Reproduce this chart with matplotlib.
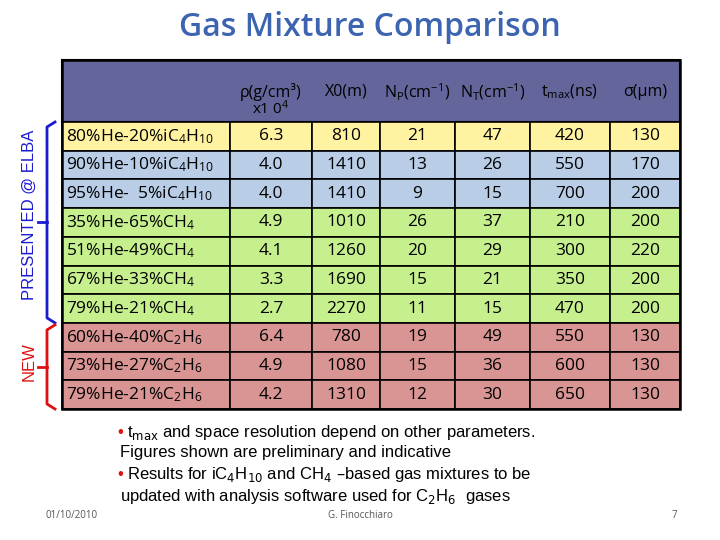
import matplotlib
matplotlib.use("Agg")
import matplotlib.pyplot as plt
from matplotlib.patches import Rectangle

plt.rcParams['mathtext.fontset'] = 'custom'
plt.rcParams['mathtext.rm'] = 'Open Sans'
plt.rcParams['mathtext.it'] = 'Open Sans'

mixtures = [r'80%He-20%iC$_4$H$_{10}$', r'90%He-10%iC$_4$H$_{10}$', r'95%He-  5%iC$_4$H$_{10}$',
            r'35%He-65%CH$_4$', r'51%He-49%CH$_4$', r'67%He-33%CH$_4$', r'79%He-21%CH$_4$',
            r'60%He-40%C$_2$H$_6$', r'73%He-27%C$_2$H$_6$', r'79%He-21%C$_2$H$_6$']
headers = ['ρ(g/cm³)', 'X0(m)', r'N$_P$(cm$^{-1}$)', r'N$_T$(cm$^{-1}$)', r't$_{max}$(ns)', 'σ(μm)']
rho = ['6.3', '4.0', '4.0', '4.9', '4.1', '3.3', '2.7', '6.4', '4.9', '4.2']
x0 = [810, 1410, 1410, 1010, 1260, 1690, 2270, 780, 1080, 1310]
np_ = [21, 13, 9, 26, 20, 15, 11, 19, 15, 12]
nt = [47, 26, 15, 37, 29, 21, 15, 49, 36, 30]
tmax = [420, 550, 700, 210, 300, 350, 470, 550, 600, 650]
sigma = [130, 170, 200, 200, 220, 200, 200, 130, 130, 130]
groups = ['y', 'b', 'b', 'g', 'g', 'g', 'g', 'r', 'r', 'r']
gcol = {'y': '#fff2a0', 'b': '#b9cde6', 'g': '#c6ef8e', 'r': '#d99594'}

fig = plt.figure(figsize=(7.2, 5.4), dpi=100)
ax = fig.add_axes([0, 0, 1, 1])
ax.set_xlim(0, 720); ax.set_ylim(540, 0); ax.axis('off')
F = 'Open Sans'

ax.text(370, 28, 'Gas Mixture Comparison', ha='center', va='center', fontsize=23,
        color='#3c64b0', family=F, weight='semibold')

colx = [62, 230, 312, 380, 455, 530, 610, 680]
top, hb, rh = 60, 122, 28.7
ax.add_patch(Rectangle((colx[0], top), colx[-1]-colx[0], hb-top, fc='#64659b', ec='black', lw=1.5))
for j, h in enumerate(headers):
    cx = (colx[j+1] + colx[j+2]) / 2
    ax.text(cx, 92, h, ha='center', va='center', fontsize=11.5, color='black', family=F)
ax.text((colx[1]+colx[2])/2, 109, r'x1 0$^4$', ha='center', va='center', fontsize=11, family=F)
cols = [rho, x0, np_, nt, tmax, sigma]
for i, m in enumerate(mixtures):
    y = hb + i*rh
    c = gcol[groups[i]]
    for j in range(len(colx)-1):
        ax.add_patch(Rectangle((colx[j], y), colx[j+1]-colx[j], rh, fc=c, ec='black', lw=1.2))
    ax.text(colx[0]+4, y+rh/2, m, ha='left', va='center', fontsize=12.5, family=F)
    for j, col in enumerate(cols):
        ax.text((colx[j+1]+colx[j+2])/2, y+rh/2, str(col[i]), ha='center', va='center',
                fontsize=12.5, family=F)
ax.add_patch(Rectangle((colx[0], top), colx[-1]-colx[0], hb+10*rh-top, fill=False, ec='black', lw=1.8))

def bracket(y0, y1, color):
    ym = (y0+y1)/2
    ax.plot([55, 47, 47, 55], [y0, y0+5, y1-5, y1], color=color, lw=2)
    ax.plot([38, 47], [ym, ym], color=color, lw=2)
bracket(hb, hb+7*rh, '#1a1ad0')
bracket(hb+7*rh+2, hb+10*rh, '#dd1111')
ax.text(29, 215, 'PRESENTED @ ELBA', rotation=90, ha='center', va='center', fontsize=12,
        color='#1a1ad0', family='Liberation Sans')
ax.text(29, 362, 'NEW', rotation=90, ha='center', va='center', fontsize=12,
        color='#dd1111', family='Liberation Sans')

L = 'Liberation Sans'
fs = 12
ax.text(117, 432, '•', color='#dd1111', fontsize=fs, family=L, va='center')
ax.text(127, 432, r't$_{\rm max}$ and space resolution depend on other parameters.', fontsize=fs,
        family=L, va='center', math_fontfamily='dejavusans')
ax.text(120, 453, 'Figures shown are preliminary and indicative', fontsize=fs, family=L, va='center')
ax.text(117, 475, '•', color='#dd1111', fontsize=fs, family=L, va='center')
ax.text(127, 475, r'Results for iC$_4$H$_{10}$ and CH$_4$ –based gas mixtures to be', fontsize=fs,
        family=L, va='center', math_fontfamily='dejavusans')
ax.text(120, 496, r'updated with analysis software used for C$_2$H$_6$  gases', fontsize=fs,
        family=L, va='center', math_fontfamily='dejavusans')

ax.text(45, 515, '01/10/2010', fontsize=7, color='#555555', family=F, va='center')
ax.text(360, 515, 'G. Finocchiaro', fontsize=7, color='#555555', family=F, va='center', ha='center')
ax.text(672, 515, '7', fontsize=7, color='#555555', family=F, va='center')

fig.savefig('out.png', dpi=100)
